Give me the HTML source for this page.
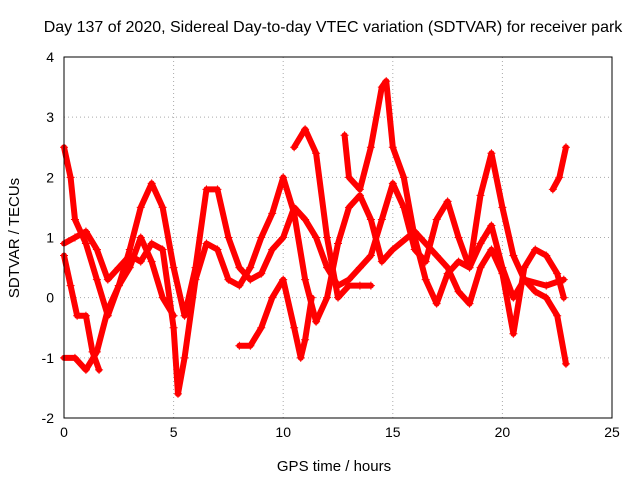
<!DOCTYPE html>
<html><head><meta charset="utf-8"><style>
body{margin:0;background:#fff}
svg{font-family:"Liberation Sans",sans-serif}
</style></head><body>
<svg id="chart" width="640" height="480">
<rect width="640" height="480" fill="#fff"/>
<text x="333" y="32" font-size="16" text-anchor="middle">Day 137 of 2020, Sidereal Day-to-day VTEC variation (SDTVAR) for receiver park</text>
<text x="334" y="471" font-size="15" text-anchor="middle">GPS time / hours</text>
<text transform="translate(19,238) rotate(-90)" font-size="15" text-anchor="middle">SDTVAR / TECUs</text>
<g id="grid"></g><g id="marks"></g>
<rect x="64" y="57" width="548" height="361" fill="none" stroke="#000"/>
</svg>
<script>
const xTicks=[0,5,10,15,20,25];
const yTicks=[-2,-1,0,1,2,3,4];
const trackA=[[0,2.5],[0.3,2.0],[0.5,1.3],[1,0.9],[1.5,0.3],[2,-0.3],[2.5,0.2],[3,0.8],[3.5,1.5],[4,1.9],[4.5,1.5],[5,0.5],[5.5,-0.3],[6,0.5],[6.5,1.8],[7,1.8],[7.5,1.0],[8,0.5],[8.5,0.3],[9,0.4],[9.5,0.8],[10,1.0],[10.5,1.5],[11,1.3],[11.5,1.0],[12,0.5],[12.5,0.2],[13,0.3],[13.5,0.5],[14,0.7],[14.5,1.3],[15,1.9],[15.5,1.5],[16,0.8],[16.5,0.6],[17,1.3],[17.5,1.6],[18,1.0],[18.5,0.5],[19,0.9],[19.5,1.2],[20,0.5],[20.5,0.0],[21,0.3],[22,0.2],[22.8,0.3]];
const trackB=[[0,0.9],[0.5,1.0],[1,1.1],[1.5,0.8],[2,0.3],[2.5,0.5],[3,0.7],[3.5,0.6],[4,0.9],[4.5,0.8],[5,-0.5],[5.2,-1.6],[5.5,-1.0],[6,0.3],[6.5,0.9],[7,0.8],[7.5,0.3],[8,0.2],[8.5,0.5],[9,1.0],[9.5,1.4],[10,2.0],[10.5,1.4],[11,0.3],[11.5,-0.4],[12,0.0],[12.5,0.9],[13,1.5],[13.5,1.7],[14,1.3],[14.5,0.6],[15,0.8],[16,1.1],[17,0.7],[17.5,0.5],[18,0.1],[18.5,-0.1],[19,0.5],[19.5,0.8],[20,0.4],[20.5,-0.6],[21,0.5],[21.5,0.8],[22,0.7],[22.5,0.4],[22.8,0.0]];
const trackC=[[0,-1.0],[0.5,-1.0],[1,-1.2],[1.5,-0.9],[2,-0.2],[2.5,0.2],[3,0.5],[3.5,1.0],[4,0.6],[4.5,0.0],[5,-0.3]];
const trackD=[[0,0.7],[0.3,0.2],[0.6,-0.3],[1,-0.3],[1.3,-0.9],[1.6,-1.2]];
const trackE=[[8,-0.8],[8.5,-0.8],[9,-0.5],[9.5,0.0],[10,0.3],[10.5,-0.5],[10.8,-1.0],[11,-0.7],[11.3,0.0]];
const trackF=[[10.5,2.5],[11,2.8],[11.5,2.4],[12,1.0],[12.5,0.0],[13,0.2],[13.5,0.2],[14,0.2]];
const trackG=[[12.8,2.7],[13,2.0],[13.5,1.8],[14,2.5],[14.5,3.5],[14.7,3.6],[15,2.5],[15.5,2.0],[16,1.0],[16.5,0.3],[17,-0.1],[17.5,0.4],[18,0.6],[18.5,0.5],[19,1.7],[19.5,2.4],[20,1.5],[20.5,0.7],[21,0.3],[21.5,0.1],[22,0.0],[22.5,-0.3],[22.9,-1.1]];
const trackH=[[22.3,1.8],[22.6,2.0],[22.9,2.5]];
const tracks=[trackA,trackB,trackC,trackD,trackE,trackF,trackG,trackH];
const X=v=>64+v*(548/25), Y=v=>418-(v+2)*(361/6);
const NS="http://www.w3.org/2000/svg";
const grid=document.getElementById('grid'), marks=document.getElementById('marks');
function mk(t,a,p){const e=document.createElementNS(NS,t);for(const k in a)e.setAttribute(k,a[k]);p.appendChild(e);return e;}
xTicks.forEach(t=>{
 const l=mk('line',{x1:X(t),x2:X(t),y1:57,y2:418,stroke:'#aaa','stroke-dasharray':'1,3'},grid);
 
 
 const s=mk('text',{x:X(t),y:437,'font-size':14,'text-anchor':'middle'},grid);s.textContent=t;
 
 
});
yTicks.forEach(t=>{
 const l=mk('line',{x1:64,x2:612,y1:Y(t),y2:Y(t),stroke:'#aaa','stroke-dasharray':'1,3'},grid);
 
 
 const s=mk('text',{x:54,y:Y(t)+5,'font-size':14,'text-anchor':'end'},grid);s.textContent=t;
 
 
});
tracks.forEach((tr,i)=>{
 const pl=mk('polyline',{points:tr.map(p=>X(p[0])+','+Y(p[1])).join(' '),fill:'none',stroke:'#f00','stroke-width':6,'stroke-linejoin':'round','stroke-linecap':'round'},marks);
 
 
 tr.forEach(p=>{
  const x=X(p[0]),y=Y(p[1]);
  const m=mk('path',{d:`M${x-4},${y}H${x+4}M${x},${y-4}V${y+4}`,stroke:'#f00','stroke-width':1},marks);
  
  
 });
});
</script>
</body></html>
